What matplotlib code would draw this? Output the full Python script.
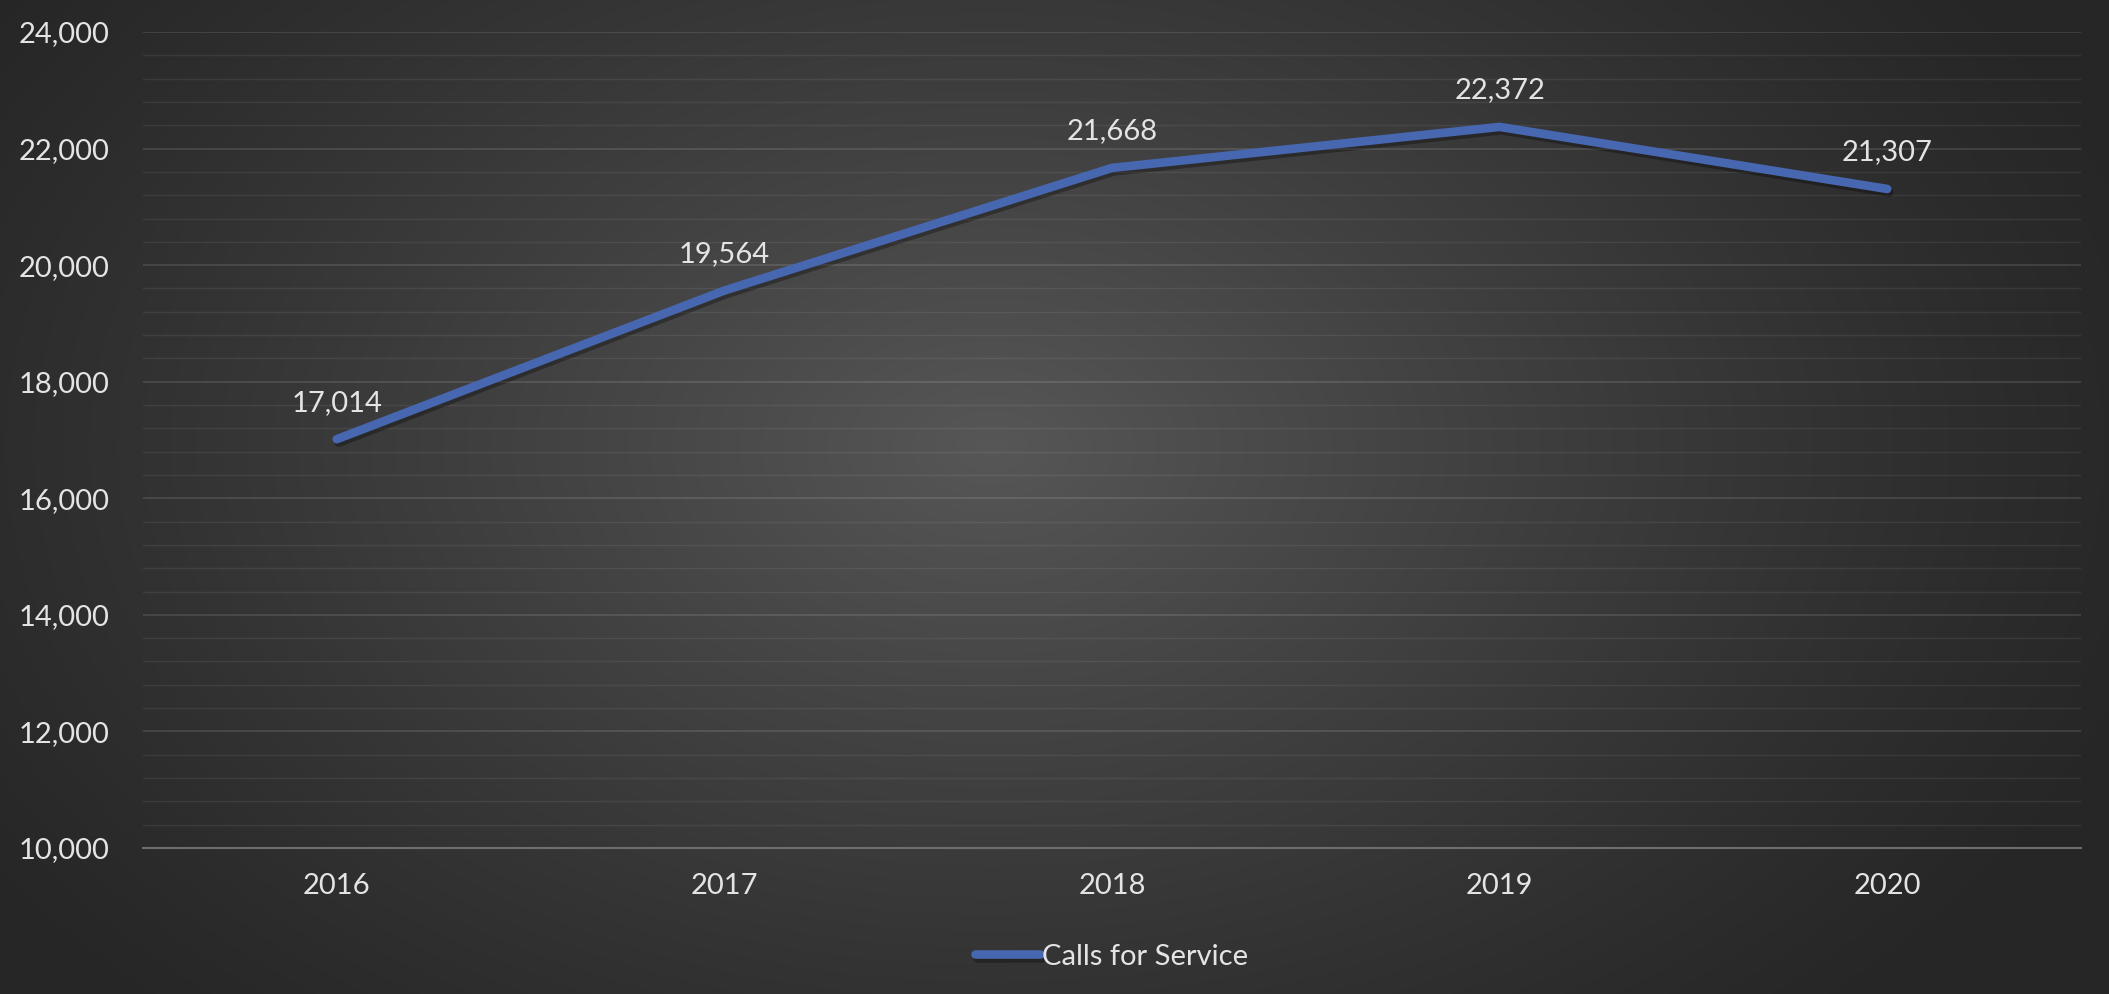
import numpy as np
import matplotlib
matplotlib.use("Agg")
import matplotlib.pyplot as plt
import matplotlib.patheffects as pe
from matplotlib.ticker import MultipleLocator, FuncFormatter

years = ["2016", "2017", "2018", "2019", "2020"]
calls = [17014, 19564, 21668, 22372, 21307]

plt.rcParams["font.family"] = ["Lato", "DejaVu Sans"]

W, H = 2109, 994
fig = plt.figure(figsize=(W / 100, H / 100), dpi=100)

# radial background, lighter in the middle
bg = fig.add_axes([0, 0, 1, 1], zorder=0)
yy, xx = np.mgrid[0:H, 0:W]
r = np.sqrt(((xx - W * 0.47) / (W * 0.58)) ** 2 + ((yy - H * 0.45) / (H * 0.8)) ** 2)
shade = np.clip(1 - r, 0, 1)
lo, hi = 0.15, 0.34
img = lo + (hi - lo) * shade ** 1.2
bg.imshow(np.dstack([img, img, img]), aspect="auto", extent=[0, 1, 0, 1])
bg.axis("off")

ax = fig.add_axes([143 / W, 1 - 848 / H, (2081 - 143) / W, (848 - 32) / H], zorder=1)
ax.patch.set_alpha(0)

x = np.arange(len(years))
ax.plot(x, calls, color="#4767B1", lw=6.2, solid_capstyle="round", solid_joinstyle="round",
        label="Calls for Service",
        path_effects=[pe.SimpleLineShadow(offset=(1.5, -2.5), shadow_color="black", alpha=0.3),
                      pe.Normal()])

for xi, v in zip(x, calls):
    ax.annotate(f"{v:,}", (xi, v), xytext=(0, 17), textcoords="offset points",
                ha="center", va="bottom", color="#e4e4e4", fontsize=21)

ax.set_xlim(-0.5, len(years) - 0.5)
ax.set_ylim(10000, 24000)
ax.yaxis.set_major_locator(MultipleLocator(2000))
ax.yaxis.set_minor_locator(MultipleLocator(400))
ax.yaxis.set_major_formatter(FuncFormatter(lambda v, p: f"{int(v):,}"))
ax.set_xticks(x)
ax.set_xticklabels(years)

ax.grid(axis="y", which="major", color="#ffffff", alpha=0.12, lw=1.3)
ax.grid(axis="y", which="minor", color="#ffffff", alpha=0.07, lw=1.0)
for s in ["top", "right", "left"]:
    ax.spines[s].set_visible(False)
ax.spines["bottom"].set_color("#6e6e6e")
ax.spines["bottom"].set_linewidth(1.5)
ax.tick_params(axis="both", which="both", length=0, colors="#e4e4e4", labelsize=21)
ax.tick_params(axis="y", pad=24)
ax.tick_params(axis="x", pad=18)

leg = ax.legend(loc="upper center", bbox_to_anchor=(0.5, -0.085), frameon=False,
                fontsize=21, handlelength=2.2, handletextpad=0.1, labelcolor="#e4e4e4")

fig.savefig("out.png", dpi=100)
